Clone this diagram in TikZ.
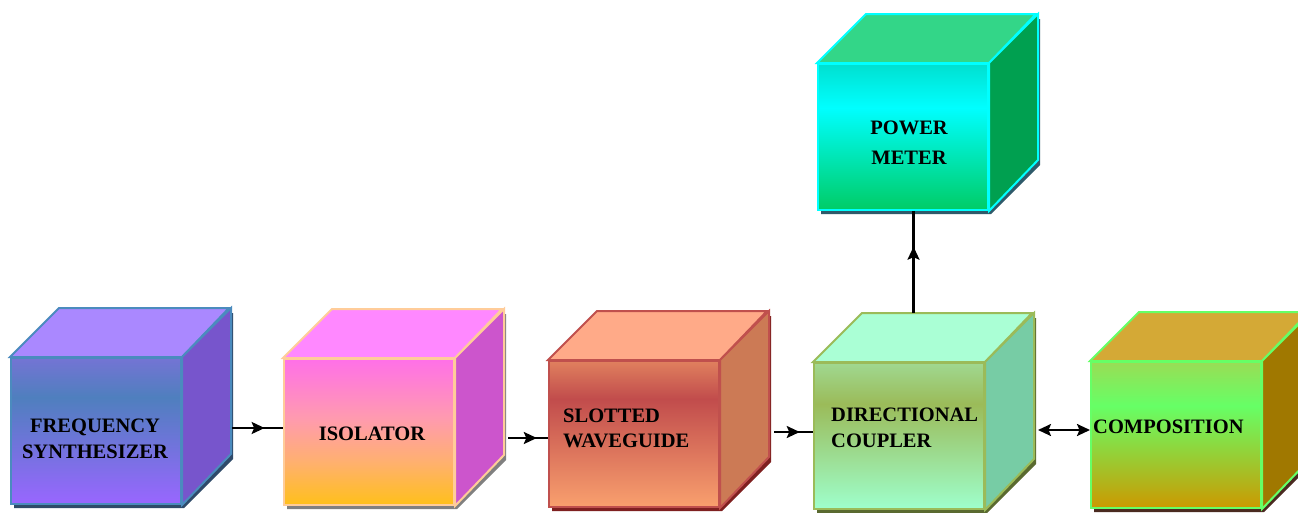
\documentclass[tikz,border=0pt]{standalone}
\usepackage{fontspec}
\setmainfont{Liberation Serif}
\usetikzlibrary{arrows.meta,decorations.markings,calc}
% colours: box 1
\definecolor{aBot}{HTML}{9966FF}\definecolor{aMid}{HTML}{4F7FBE}\definecolor{aTopc}{HTML}{7474D4}
\definecolor{aTop}{HTML}{AA88FF}\definecolor{aSide}{HTML}{7755CC}\definecolor{aEdge}{HTML}{4B8BBE}\definecolor{aShadow}{HTML}{2F4A6A}
% box 2
\definecolor{bBot}{HTML}{FFC01A}\definecolor{bLow}{HTML}{FFB070}\definecolor{bMid}{HTML}{FF9AB0}\definecolor{bTopc}{HTML}{FF70E8}
\definecolor{bTop}{HTML}{FF88FF}\definecolor{bSide}{HTML}{CC55CC}\definecolor{bEdge}{HTML}{FFCC99}\definecolor{bShadow}{HTML}{808080}
% box 3
\definecolor{cBot}{HTML}{F9A06E}\definecolor{cMid}{HTML}{C14C4C}\definecolor{cTopc}{HTML}{E0805E}
\definecolor{cTop}{HTML}{FFAA88}\definecolor{cSide}{HTML}{CC7A55}\definecolor{cEdge}{HTML}{C0504D}\definecolor{cShadow}{HTML}{7F2020}
% box 4
\definecolor{dBot}{HTML}{9EFFCC}\definecolor{dMid}{HTML}{9BBB59}\definecolor{dTopc}{HTML}{A0D890}
\definecolor{dTop}{HTML}{AAFFD5}\definecolor{dSide}{HTML}{77CCA5}\definecolor{dEdge}{HTML}{9BBB59}\definecolor{dShadow}{HTML}{5A6A30}
% box 5
\definecolor{eBot}{HTML}{CC9900}\definecolor{eLow}{HTML}{99CC33}\definecolor{eMid}{HTML}{66FF66}\definecolor{eTopc}{HTML}{99DD55}
\definecolor{eTop}{HTML}{D4A936}\definecolor{eSide}{HTML}{A07800}\definecolor{eEdge}{HTML}{66FF66}\definecolor{eShadow}{HTML}{4A2A20}
% box 6
\definecolor{fBot}{HTML}{00CC66}\definecolor{fMid}{HTML}{00FFFF}\definecolor{fTopc}{HTML}{00E0D0}
\definecolor{fTop}{HTML}{33D688}\definecolor{fSide}{HTML}{00A050}\definecolor{fEdge}{HTML}{00FFFF}\definecolor{fShadow}{HTML}{2F5A6A}
% front-face shadings (25bp = bottom, 75bp = top)
\pgfdeclareverticalshading{sha}{100bp}{color(0bp)=(aBot); color(25bp)=(aBot); color(61.5bp)=(aMid); color(75bp)=(aTopc); color(100bp)=(aTopc)}
\pgfdeclareverticalshading{shb}{100bp}{color(0bp)=(bBot); color(25bp)=(bBot); color(40bp)=(bLow); color(55bp)=(bMid); color(75bp)=(bTopc); color(100bp)=(bTopc)}
\pgfdeclareverticalshading{shc}{100bp}{color(0bp)=(cBot); color(25bp)=(cBot); color(62bp)=(cMid); color(75bp)=(cTopc); color(100bp)=(cTopc)}
\pgfdeclareverticalshading{shd}{100bp}{color(0bp)=(dBot); color(25bp)=(dBot); color(61bp)=(dMid); color(75bp)=(dTopc); color(100bp)=(dTopc)}
\pgfdeclareverticalshading{she}{100bp}{color(0bp)=(eBot); color(25bp)=(eBot); color(42bp)=(eLow); color(60bp)=(eMid); color(75bp)=(eTopc); color(100bp)=(eTopc)}
\pgfdeclareverticalshading{shf}{100bp}{color(0bp)=(fBot); color(25bp)=(fBot); color(60bp)=(fMid); color(75bp)=(fTopc); color(100bp)=(fTopc)}
% cube: #1 letter, #2 node name, #3 x, #4 y (front top-left, px)
\newcommand\mycube[4]{%
  \fill[#1Shadow] ({#3+4},{#4+146+5}) -- ({#3+4},{#4+5}) -- ({#3+49+4},{#4-49+5}) -- ({#3+219+4},{#4-49+5})
     -- ({#3+219+4},{#4+97+5}) -- ({#3+170+4},{#4+146+5}) -- cycle;
  \node[frontface, draw=#1Edge, shading=sh#1] (#2) at (#3,#4) {};
  \draw[faceline, draw=#1Edge, fill=#1Top] (#2.north west) -- ++(49,-49) -- ++(170,0) -- (#2.north east) -- cycle;
  \draw[faceline, draw=#1Edge, fill=#1Side] (#2.north east) -- ++(49,-49) -- ++(0,146) -- (#2.south east) -- cycle;
}
\begin{document}
\begin{tikzpicture}[x=1pt,y=-1pt,
  frontface/.style={rectangle, minimum width=170pt, minimum height=146pt, inner sep=0pt, line width=2pt, anchor=north west},
  faceline/.style={line width=2pt, line join=miter},
  lbl/.style={font=\bfseries\fontsize{20.5}{26}\selectfont, text=black, inner sep=0pt},
  conn/.style={line width=2.2pt, draw=black},
  tip/.tip={Stealth[length=13pt,width=12pt,inset=2.5pt]},
  midarr/.style={postaction={decorate}, decoration={markings, mark=at position #1 with {\arrow{tip}}}}]
\useasboundingbox (0,0) rectangle (1298,512);
\clip (0,0) rectangle (1298,512);
\fill[white] (0,0) rectangle (1298,512);

\mycube{a}{fs}{10}{357}
\mycube{b}{iso}{283}{358}
\mycube{c}{swg}{548}{360}
\mycube{d}{dc}{813}{362}
\mycube{e}{comp}{1090}{361}
\mycube{f}{pm}{817}{63}

\node[lbl, align=center] (tfs) at (95,439) {FREQUENCY\\SYNTHESIZER};
\node[lbl] (tiso) at (372,433.5) {ISOLATOR};
\node[lbl, align=left, anchor=west, font=\bfseries\fontsize{20.5}{25}\selectfont] (tswg) at (563,428) {SLOTTED\\WAVEGUIDE};
\node[lbl, align=left, anchor=west] (tdc) at (831,427.5) {DIRECTIONAL\\COUPLER};
\node[lbl, anchor=west] (tcomp) at (1093,426.5) {COMPOSITION};
\node[lbl, align=center, font=\bfseries\fontsize{20.5}{30}\selectfont] (tpm) at (909,142.5) {POWER\\METER};

\coordinate (a1) at ([xshift=50pt,yshift=3pt]fs.east);
\draw[conn, midarr=0.64] (a1) -- (a1 -| iso.west);
\coordinate (a2) at ([xshift=53pt,yshift=-6pt]iso.east);
\draw[conn, midarr=0.72] (a2) -- (a2 -| swg.west);
\coordinate (a3) at ([xshift=54pt,yshift=2pt]swg.east);
\draw[conn, midarr=0.66] (a3) -- (a3 -| dc.west);
\coordinate (a4) at ([xshift=53pt,yshift=6pt]dc.east);
\draw[conn, tip-tip] (a4) -- (a4 -| comp.west);
\coordinate (a5) at ([xshift=14.5pt,yshift=49pt]dc.north);
\draw[conn, midarr=0.65] (a5) -- (a5 |- pm.south);
\end{tikzpicture}
\end{document}
